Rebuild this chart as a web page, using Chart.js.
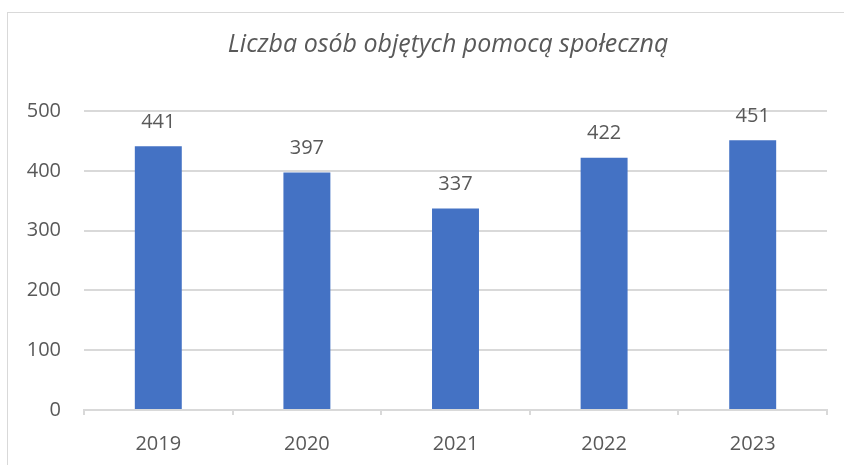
<!DOCTYPE html>
<html>
<head>
<meta charset="utf-8">
<script src="https://cdn.jsdelivr.net/npm/chart.js@4.4.1/dist/chart.umd.min.js"></script>
<style>
  body { margin: 0; background: #fff; overflow: hidden; }
  #frame { position: absolute; left: 7px; top: 12px; width: 900px; height: 500px; border: 1px solid #d9d9d9; }
  #wrap { position: absolute; left: 0; top: 0; width: 844px; height: 465px; }
</style>
</head>
<body>
<div id="frame"></div>
<div id="wrap"><canvas id="barChart" width="844" height="465"></canvas></div>
<script>
var years = ['2019', '2020', '2021', '2022', '2023'];
var persons = [441, 397, 337, 422, 451];
var yMax = 500;
var yStep = 100;

var textColor = '#595959';
var gridColor = '#d9d9d9';
var fontFamily = "'Open Sans', 'Noto Sans', sans-serif";

// wartosci nad slupkami
var valueLabels = {
    id: 'valueLabels',
    afterDatasetsDraw: function(chart) {
        var ctx = chart.ctx;
        var meta = chart.getDatasetMeta(0);
        ctx.save();
        ctx.fillStyle = textColor;
        ctx.font = '20px ' + fontFamily;
        ctx.textAlign = 'center';
        ctx.textBaseline = 'middle';
        meta.data.forEach(function(bar, i) {
            ctx.fillText(chart.data.datasets[0].data[i], bar.x, bar.y - 24);
        });
        ctx.restore();
    }
};

var bar = document.getElementById('barChart');
var barChart = new Chart(bar, {
    type: 'bar',
    data: {
        labels: years,
        datasets: [{
            data: persons,
            backgroundColor: '#4472c4',
            categoryPercentage: 1,
            barPercentage: 0.316
        }]
    },
    options: {
        responsive: false,
        animation: false,
        layout: { padding: { left: 26, right: 17, top: 0, bottom: 0 } },
        scales: {
            x: {
                grid: {
                    offset: true,
                    drawOnChartArea: false,
                    color: gridColor,
                    tickLength: 5,
                    lineWidth: 2
                },
                border: { color: gridColor, width: 2 },
                ticks: {
                    color: textColor,
                    font: { family: fontFamily, size: 20 },
                    padding: 17,
                    maxRotation: 0
                },
                afterFit: function(scale) { scale.height = 55; }
            },
            y: {
                min: 0,
                max: yMax,
                grid: { color: gridColor, lineWidth: 2, drawTicks: false },
                border: { display: false },
                ticks: {
                    stepSize: yStep,
                    color: textColor,
                    font: { family: fontFamily, size: 20 },
                    padding: 23
                },
                afterFit: function(scale) { scale.width = 58; }
            }
        },
        plugins: {
            legend: { display: false },
            tooltip: { enabled: false },
            title: { display: false }
        }
    },
    plugins: [valueLabels, {
        id: 'centredTitle',
        // tytul wysrodkowany nad ramka wykresu, jak w Excelu
        beforeLayout: function(chart) {
            chart.options.layout.padding.top = 111;
        },
        afterDraw: function(chart) {
            var ctx = chart.ctx;
            ctx.save();
            ctx.fillStyle = textColor;
            ctx.font = 'italic 25px ' + fontFamily;
            ctx.textAlign = 'center';
            ctx.textBaseline = 'middle';
            ctx.fillText('Liczba osób objętych pomocą społeczną', 448, 45);
            ctx.restore();
        }
    }]
});
</script>
</body>
</html>
